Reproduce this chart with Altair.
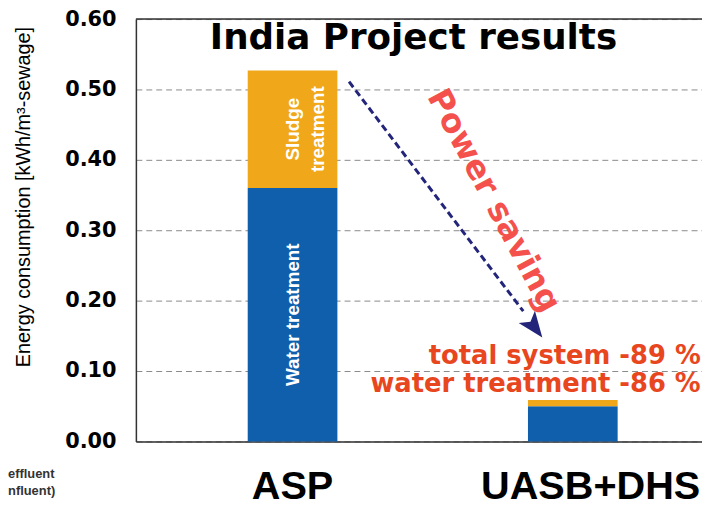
import altair as alt
import pandas as pd

# ---- data ----
categories = ["ASP", "UASB+DHS"]
water = [0.36, 0.05]
sludge = [0.167, 0.009]
components = ["Water treatment", "Sludge treatment"]
y_ticks = [0.0, 0.1, 0.2, 0.3, 0.4, 0.5, 0.6]

BLUE = "#0F5FAC"
ORANGE = "#F0A81A"
NAVY = "#23257A"
RED = "#F4504C"
ORANGE_RED = "#E8461E"

rows = []
for c, w, s in zip(categories, water, sludge):
    rows.append({"category": c, "component": components[0], "value": w, "order": 0,
                 "start": 0.0, "end": w})
    rows.append({"category": c, "component": components[1], "value": s, "order": 1,
                 "start": w, "end": w + s})
bars_df = pd.DataFrame(rows)
bars_df["mid"] = (bars_df["start"] + bars_df["end"]) / 2

xscale = alt.Scale(domain=categories, paddingInner=0.68, paddingOuter=0.35, align=0.57)
yscale = alt.Scale(domain=[0, 0.6], nice=False)

x_enc = alt.X("category:N", scale=xscale, sort=categories,
              axis=alt.Axis(title=None, labelAngle=0, ticks=False, labelPadding=58,
                            labelBaseline="alphabetic", labelFontSize=40, labelLimit=600,
                            labelOffset={"condition": {"test": "datum.value == 'UASB+DHS'",
                                                       "value": 18}, "value": 0},
                            labelFont="Liberation Sans", labelFontWeight="bold",
                            labelColor="#000000", domainColor="#333333", domainWidth=1.5,
                            grid=False))
y_enc = alt.Y("start:Q", scale=yscale,
              axis=alt.Axis(title="Energy consumption [kWh/m³-sewage]", values=y_ticks,
                            format=".2f", ticks=False, labelPadding=20,
                            labelFont="DejaVu Sans", labelFontWeight="bold",
                            labelFontSize=21, labelColor="#000000",
                            grid=True, gridDash=[6, 4], gridColor="#8a8a8a", gridWidth=1,
                            domainColor="#333333", domainWidth=1.5,
                            titleFont="Liberation Sans", titleFontSize=20,
                            titleFontWeight="normal", titleColor="#000000",
                            titleX=-113, titleY=179, titleAngle=-90,
                            titleBaseline="middle", titleAlign="center"))

bars = alt.Chart(bars_df).mark_bar().encode(
    x=x_enc,
    y=y_enc,
    y2="end:Q",
    color=alt.Color("component:N", scale=alt.Scale(domain=components, range=[BLUE, ORANGE]),
                    legend=None),
)

# in-bar labels (ASP only)
asp_df = bars_df[bars_df["category"] == "ASP"].copy()
asp_df["label"] = ["Water treatment", "Sludge\ntreatment"]
bar_text = alt.Chart(asp_df).mark_text(
    angle=270, color="white", font="Liberation Sans", fontSize=19,
    fontWeight="bold", lineBreak="\n", lineHeight=26, align="center", baseline="middle"
).encode(
    x=alt.X("category:N", scale=xscale, sort=categories),
    y=alt.Y("mid:Q", scale=yscale),
    text="label:N",
)

# top frame line
top_df = pd.DataFrame({"y": [0.6]})
top_line = alt.Chart(top_df).mark_rule(color="#333333", strokeWidth=1.5).encode(
    y=alt.Y("y:Q", scale=yscale))

# chart title drawn inside the plot
title_df = pd.DataFrame({"x": ["ASP"], "y": [0.6], "t": ["India Project results"]})
title = alt.Chart(title_df).mark_text(
    font="DejaVu Sans", fontWeight="bold", fontSize=36, color="#000000",
    align="center", baseline="alphabetic", dx=122, dy=30
).encode(
    x=alt.X("x:N", scale=xscale, sort=categories),
    y=alt.Y("y:Q", scale=yscale),
    text="t:N",
)

# dashed arrow
arrow_df = pd.DataFrame({"x": ["ASP"], "x2": ["UASB+DHS"], "y": [0.511], "y2": [0.185]})
arrow = alt.Chart(arrow_df).mark_rule(
    color=NAVY, strokeWidth=3, strokeDash=[7, 4], xOffset=57, x2Offset=-50
).encode(
    x=alt.X("x:N", scale=xscale, sort=categories),
    x2="x2:N",
    y=alt.Y("y:Q", scale=yscale),
    y2="y2:Q",
)
head_df = pd.DataFrame({"x": ["UASB+DHS"], "y": [0.163]})
head = alt.Chart(head_df).mark_point(
    shape="M0,-1 L0.75,0.9 L0,0.45 L-0.75,0.9 Z", filled=True, color=NAVY,
    size=750, angle=143, opacity=1, xOffset=-39
).encode(
    x=alt.X("x:N", scale=xscale, sort=categories),
    y=alt.Y("y:Q", scale=yscale),
)

# annotations
ann_df = pd.DataFrame({"x": ["UASB+DHS"], "y": [0.342], "t": ["Power saving"]})
power = alt.Chart(ann_df).mark_text(
    angle=62, color=RED, font="DejaVu Sans", fontWeight="bold", fontSize=33,
    align="center", baseline="middle", xOffset=-80
).encode(
    x=alt.X("x:N", scale=xscale, sort=categories),
    y=alt.Y("y:Q", scale=yscale),
    text="t:N",
)

res_df = pd.DataFrame({"x": ["UASB+DHS", "UASB+DHS"], "y": [0.110, 0.0704],
                       "t": ["total system -89 %", "water treatment -86 %"]})
results = alt.Chart(res_df).mark_text(
    color=ORANGE_RED, font="DejaVu Sans", fontWeight="bold", fontSize=26,
    align="right", baseline="alphabetic", dx=129
).encode(
    x=alt.X("x:N", scale=xscale, sort=categories),
    y=alt.Y("y:Q", scale=yscale),
    text="t:N",
)

cut_df = pd.DataFrame({"x": ["ASP", "ASP"], "y": [-0.052, -0.076],
                       "t": ["effluent", "nfluent)"]})
cut_text = alt.Chart(cut_df).mark_text(
    color="#333333", font="Liberation Sans", fontWeight="bold", fontSize=13,
    align="left", baseline="alphabetic", dx=-287
).encode(
    x=alt.X("x:N", scale=xscale, sort=categories),
    y=alt.Y("y:Q", scale=yscale),
    text="t:N",
)

chart = alt.layer(bars, top_line, bar_text, title, arrow, head, power, results,
                  cut_text).properties(
    width=571, height=426,
    autosize=alt.AutoSizeParams(type="none"),
    padding={"left": 129, "top": 9, "right": 0, "bottom": 64},
).configure_view(stroke=None).configure(background="white")

chart.save("out.html", embed_options={"renderer": "svg", "actions": False})
